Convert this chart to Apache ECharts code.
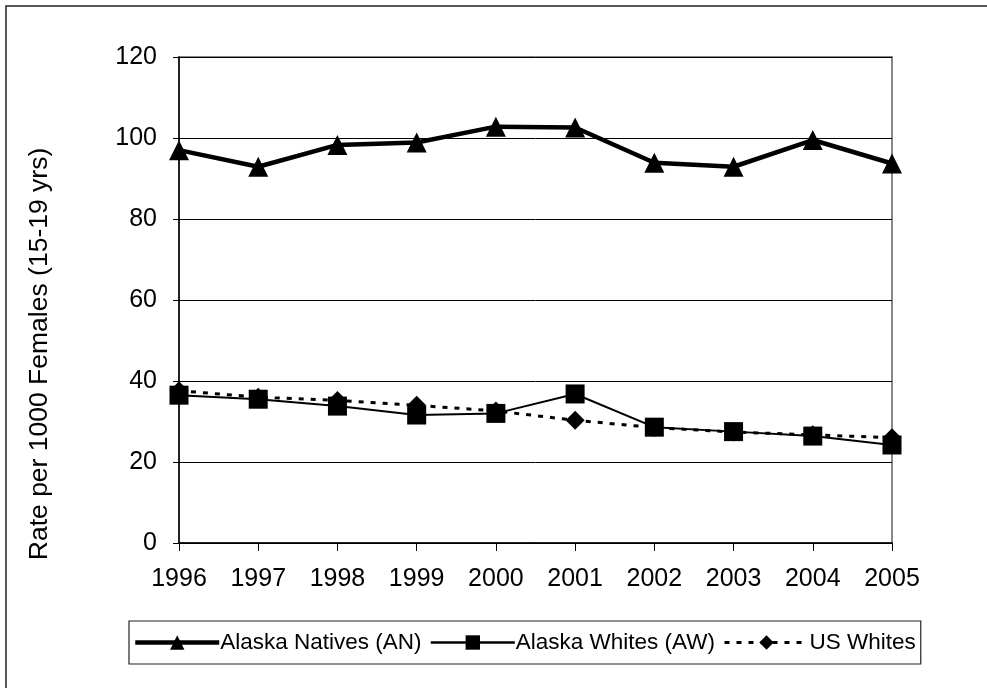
<!DOCTYPE html>
<html>
<head>
<meta charset="utf-8">
<script src="https://cdn.jsdelivr.net/npm/echarts@6/dist/echarts.min.js"></script>
<style>
  html, body { margin: 0; padding: 0; background: #fff; }
  #main { width: 987px; height: 688px; }
</style>
</head>
<body>
<div id="main"></div>
<script>
// data
var years = ['1996', '1997', '1998', '1999', '2000', '2001', '2002', '2003', '2004', '2005'];
var alaskaNatives = [97.0, 92.9, 98.3, 98.9, 102.8, 102.6, 93.9, 92.9, 99.5, 93.7];
var alaskaWhites = [36.5, 35.5, 33.8, 31.6, 32.0, 36.8, 28.6, 27.5, 26.4, 24.2];
var usWhites = [37.6, 36.0, 35.2, 34.0, 32.6, 30.3, 28.5, 27.4, 26.7, 26.0];
var yTicks = [0, 20, 40, 60, 80, 100, 120];

var font = 'Liberation Sans, Arial, sans-serif';
var myChart = echarts.init(document.getElementById('main'));

var option = {
    backgroundColor: '#fff',
    animation: false,
    graphic: [
        {
            type: 'rect',
            shape: { x: 6, y: 6, width: 1000, height: 700 },
            style: { fill: 'none', stroke: '#222', lineWidth: 1.5 },
            z: -10
        },
        {
            type: 'text',
            x: 40,
            y: 354,
            rotation: Math.PI / 2,
            style: {
                text: 'Rate per 1000 Females (15-19 yrs)',
                font: '26.5px ' + font,
                fill: '#000',
                align: 'center',
                verticalAlign: 'middle'
            }
        }
    ],
    grid: {
        left: 179,
        top: 57,
        right: 95,
        bottom: 145,
        show: true,
        borderColor: '#888',
        borderWidth: 2,
        backgroundColor: '#fff'
    },
    legend: {
        left: 129,
        top: 621,
        padding: [10, 5, 10, 4],
        borderColor: '#222',
        borderWidth: 1.2,
        itemWidth: 84,
        itemHeight: 18,
        itemGap: 8,
        textStyle: { fontSize: 22.5, fontFamily: font, color: '#000', padding: [0, 0, 0, -4] },
        data: [
            { name: 'Alaska Natives (AN)', lineStyle: { width: 4.5 } },
            { name: 'Alaska Whites (AW)', lineStyle: { width: 2.5 } },
            { name: 'US Whites', lineStyle: { width: 3 } }
        ]
    },
    xAxis: {
        type: 'category',
        data: years,
        boundaryGap: false,
        axisLine: { lineStyle: { color: '#000', width: 1.5 } },
        axisTick: { show: true, length: 8, lineStyle: { color: '#000' } },
        axisLabel: { fontSize: 25, fontFamily: font, color: '#000', margin: 24 },
        splitLine: { show: false }
    },
    yAxis: {
        type: 'value',
        min: yTicks[0],
        max: yTicks[yTicks.length - 1],
        interval: 20,
        axisLine: { show: true, lineStyle: { color: '#000', width: 1.5 } },
        axisTick: { show: true, length: 6, lineStyle: { color: '#000' } },
        axisLabel: { fontSize: 25, fontFamily: font, color: '#000', margin: 22 },
        splitLine: { show: true, lineStyle: { color: '#000', width: 1 } }
    },
    series: [
        {
            name: 'Alaska Natives (AN)',
            type: 'line',
            data: alaskaNatives,
            symbol: 'triangle',
            symbolSize: 20,
            showAllSymbol: true,
            itemStyle: { color: '#000' },
            lineStyle: { color: '#000', width: 4.5 },
            z: 5
        },
        {
            name: 'Alaska Whites (AW)',
            type: 'line',
            data: alaskaWhites,
            symbol: 'rect',
            symbolSize: 19,
            showAllSymbol: true,
            itemStyle: { color: '#000' },
            lineStyle: { color: '#000', width: 2 },
            z: 4
        },
        {
            name: 'US Whites',
            type: 'line',
            data: usWhites,
            symbol: 'diamond',
            symbolSize: [19, 19],
            showAllSymbol: true,
            itemStyle: { color: '#000' },
            lineStyle: { color: '#000', width: 3, type: [5, 7] },
            z: 3
        }
    ]
};

myChart.setOption(option);
</script>
</body>
</html>
